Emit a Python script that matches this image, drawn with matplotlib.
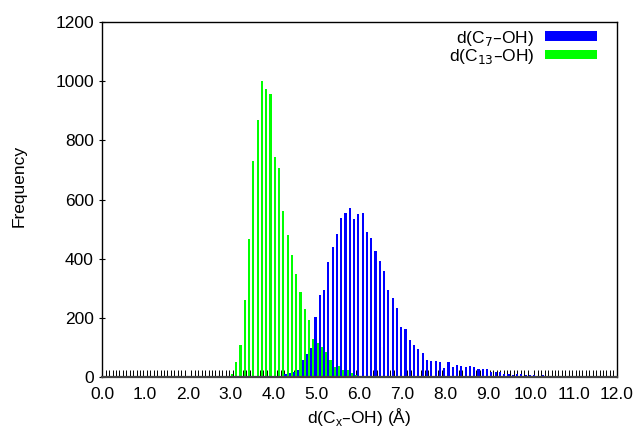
import matplotlib
matplotlib.use("Agg")
import matplotlib.pyplot as plt
import numpy as np
from matplotlib.patches import Patch
from matplotlib.ticker import MultipleLocator, FormatStrFormatter

plt.rcParams['font.family'] = ['Liberation Sans', 'DejaVu Sans']
plt.rcParams['font.size'] = 12.5

# histogram bins (left edge, 0.1 wide) and counts
c7_bins = np.round(np.arange(4.2, 10.85, 0.1), 2)
c7_counts = [9, 15, 18, 24, 57, 77, 99, 204, 277, 294,
             390, 438, 482, 536, 555, 570, 533, 550, 553, 489,
             471, 427, 392, 359, 294, 266, 232, 168, 161, 125,
             108, 94, 80, 57, 54, 54, 52, 29, 52, 35,
             41, 37, 35, 37, 33, 26, 26, 26, 18, 18,
             18, 9, 10, 7, 9, 10, 8, 6, 8, 5,
             6, 4, 4, 3, 3, 2, 3]

c13_bins = np.round(np.arange(3.0, 6.05, 0.1), 2)
c13_counts = [10, 52, 108, 262, 468, 730, 868, 1001, 975, 958,
              744, 708, 561, 481, 413, 348, 289, 229, 193, 128,
              116, 102, 86, 57, 35, 37, 24, 24, 12, 7,
              3]

c7_label = 'd(C$_7$\u2013OH)'
c13_label = 'd(C$_{13}$\u2013OH)'

fig = plt.figure(figsize=(6.38, 4.32), dpi=100)
ax = fig.add_axes([0.1603, 0.1273, 0.8063, 0.8217])

bw = 0.05
ax.bar(c7_bins + 0.075, c7_counts, width=bw, color='#0000ff', linewidth=0)
ax.bar(c13_bins + 0.025, c13_counts, width=bw, color='#00ff00', linewidth=0)

ax.set_xlim(0, 12)
ax.set_ylim(0, 1200)
ax.xaxis.set_major_locator(MultipleLocator(1.0))
ax.xaxis.set_minor_locator(MultipleLocator(0.08))
ax.xaxis.set_major_formatter(FormatStrFormatter('%.1f'))
ax.yaxis.set_major_locator(MultipleLocator(200))
ax.tick_params(axis='x', which='major', direction='in', length=0, pad=7)
ax.tick_params(axis='x', which='minor', direction='in', length=4.8, width=0.7)
ax.tick_params(axis='y', which='major', direction='inout', length=4, width=0.8,
               pad=4)
ax.set_axisbelow(True)
for s in ax.spines.values():
    s.set_linewidth(1.0)
ax.spines['bottom'].set_linewidth(1.6)
ax.spines['bottom'].set_color('#444444')

ax.set_xlabel('d(C$_\\mathregular{x}$\u2013OH) (\u00c5)', labelpad=3)
ax.set_ylabel('Frequency')
ax.yaxis.set_label_coords(-0.147, 0.538)

handles = [Patch(facecolor='#0000ff', label=c7_label),
           Patch(facecolor='#00ff00', label=c13_label)]
ax.legend(handles=handles, loc='upper right', bbox_to_anchor=(0.978, 1.006),
          frameon=False, markerfirst=False, handlelength=3.0, handleheight=0.5,
          labelspacing=-0.05, handletextpad=0.6, borderpad=0)

fig.savefig('out.png', dpi=100)
